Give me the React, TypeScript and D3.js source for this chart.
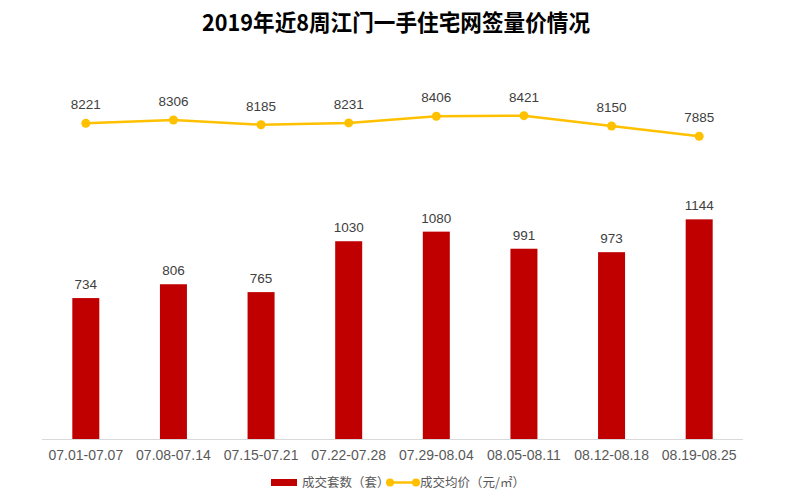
import React from 'react';
import * as d3 from 'd3';

const weeks = ['07.01-07.07', '07.08-07.14', '07.15-07.21', '07.22-07.28', '07.29-08.04', '08.05-08.11', '08.12-08.18', '08.19-08.25'];
const units = [734, 806, 765, 1030, 1080, 991, 973, 1144];
const prices = [8221, 8306, 8185, 8231, 8406, 8421, 8150, 7885];

const W = 791;
const H = 503;
const margin = { top: 55, right: 48, bottom: 64, left: 42 };
const BAR = '#C00000';
const LINE = '#FFC000';
const FONT = '"Liberation Sans", Arial, "Noto Sans CJK SC", sans-serif';

const App: React.FC = () => {
  const baseY = H - margin.bottom;
  const x = d3.scaleBand<string>().domain(weeks).range([margin.left, W - margin.right]);
  const yBar = d3.scaleLinear().domain([0, 2000]).range([baseY, margin.top]);
  const yLine = d3.scaleLinear().domain([0, 10000]).range([baseY, margin.top]);
  const cx = (i: number) => (x(weeks[i]) || 0) + x.bandwidth() / 2;
  const barW = 27;

  const line = d3.line<number>()
    .x((_, i) => cx(i))
    .y(d => yLine(d));

  return (
    <svg width={W} height={H} style={{ display: 'block', position: 'absolute', left: 0, top: 0 }} fontFamily={FONT}>
      <rect width={W} height={H} fill="#fff" />
      <text x={396} y={31} textAnchor="middle" fontSize={23} fontWeight="bold" fill="#000"
        fontFamily='"Noto Sans CJK SC", sans-serif' textLength={388} lengthAdjust="spacingAndGlyphs">
        2019年近8周江门一手住宅网签量价情况
      </text>

      {/* bars */}
      {units.map((v, i) => (
        <g key={'b' + i}>
          <rect x={cx(i) - barW / 2} y={yBar(v)} width={barW} height={baseY - yBar(v)} fill={BAR} />
          <text x={cx(i)} y={yBar(v) - 9} textAnchor="middle" fontSize={13.5} fill="#404040">{v}</text>
        </g>
      ))}

      {/* axis */}
      <line x1={margin.left} x2={W - margin.right} y1={baseY + 0.5} y2={baseY + 0.5} stroke="#d9d9d9" />
      {weeks.map((w, i) => (
        <text key={'x' + i} x={cx(i)} y={baseY + 21} textAnchor="middle" fontSize={14} fill="#595959">{w}</text>
      ))}

      {/* line */}
      <path d={line(prices) || ''} fill="none" stroke={LINE} strokeWidth={2.5} />
      {prices.map((v, i) => (
        <g key={'p' + i}>
          <circle cx={cx(i)} cy={yLine(v)} r={4.5} fill={LINE} />
          <text x={cx(i)} y={yLine(v) - 14} textAnchor="middle" fontSize={13.5} fill="#404040">{v}</text>
        </g>
      ))}

      {/* legend */}
      <rect x={271} y={479} width={26} height={7} fill={BAR} />
      <text x={302} y={487} fontSize={12.5} fill="#595959" fontFamily='"Noto Sans CJK SC", sans-serif'>成交套数（套）</text>
      <line x1={390} x2={416} y1={482.5} y2={482.5} stroke={LINE} strokeWidth={2.5} />
      <circle cx={390} cy={482.5} r={4} fill={LINE} />
      <circle cx={416} cy={482.5} r={4} fill={LINE} />
      <text x={420} y={487} fontSize={12.5} fill="#595959" fontFamily='"Noto Sans CJK SC", sans-serif'>成交均价（元/㎡）</text>
    </svg>
  );
};

export default App;
